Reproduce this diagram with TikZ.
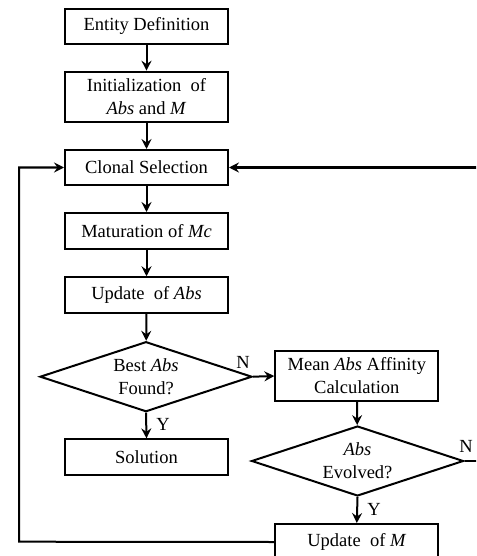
\documentclass[tikz,border=0pt]{standalone}
\usepackage{fontspec}
\setmainfont{Liberation Serif}
\usetikzlibrary{shapes.geometric,arrows.meta}
\begin{document}
\begin{tikzpicture}[x=1pt,y=-1pt,
  font=\fontsize{18.5}{23}\selectfont,
  box/.style={draw, line width=2pt, rectangle, minimum width=163pt, inner sep=0pt, align=center},
  dia/.style={draw, line width=2pt, diamond, aspect=3, minimum width=212pt, minimum height=70pt, inner sep=0pt, align=center},
  arr/.style={-{Stealth[length=10pt,width=10pt,inset=3.5pt]}, line width=2pt},
  lbl/.style={inner sep=0pt}]
\useasboundingbox (0,0) rectangle (476,556);
\clip (0,0) rectangle (476,556);
\node[box, minimum height=35.5pt] (ent) at (146.5,26.3) {Entity Definition};
\node[box, minimum height=50pt] (init) at (146.5,96.7) {Initialization\ \ of\\\textit{Abs} and \textit{M}};
\node[box, minimum height=35pt] (clon) at (146.5,167.5) {Clonal Selection};
\node[box, minimum height=36pt] (mat) at (146.5,231) {Maturation of \textit{Mc}};
\node[box, minimum height=35.5pt] (upd) at (146.5,295) {Update\ \ of \textit{Abs}};
\node[dia] (best) at (146,376.7) {Best \textit{Abs}\\Found?};
\node[box, minimum height=49.4pt] (mean) at (356.8,376) {Mean \textit{Abs} Affinity\\Calculation};
\node[box, minimum height=35.7pt] (sol) at (146.5,457.2) {Solution};
\node[dia] (evol) at (357.5,461) {\textit{Abs}\\Evolved?};
\node[box, minimum height=36pt] (updm) at (356.8,542) {Update\ \ of \textit{M}};
\coordinate (rt) at (490,461);
\coordinate (rtop) at (490,167.5);
\coordinate (lft) at (19,541.7);
\coordinate (ltop) at (19,167.5);
\node[lbl] (nb) at (243,362) {N};
\node[lbl] (yb) at (163,424) {Y};
\node[lbl] (ne) at (466,446) {N};
\node[lbl] (ye) at (374,509) {Y};
\draw[arr] (ent) -- (init);
\draw[arr] (init) -- (clon);
\draw[arr] (clon) -- (mat);
\draw[arr] (mat) -- (upd);
\draw[arr] (upd) -- (best);
\draw[arr] (best.east) -- (mean.west);
\draw[arr] (best.south) -- (sol.north);
\draw[arr] (mean) -- (evol);
\draw[arr] (evol.south) -- (updm.north);
\draw[arr] (evol.east) -- (rt) -- (rtop) -- (clon.east);
\draw[arr] (updm.west) -- (lft) -- (ltop) -- (clon.west);
\end{tikzpicture}
\end{document}
